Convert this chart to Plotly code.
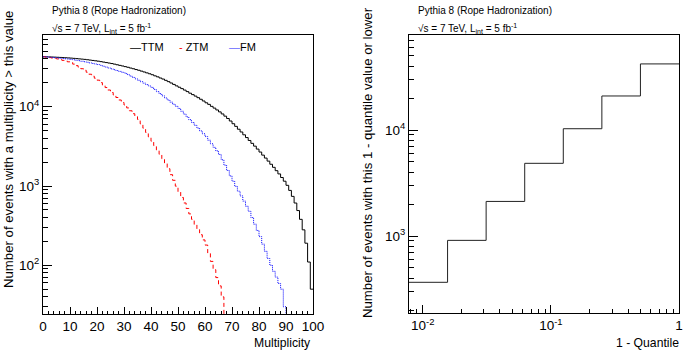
import numpy as np
import plotly.graph_objects as go

# ---------------- data ----------------
mult_edges = list(range(0, 101))  # multiplicity bin edges 0..100

ttm = [42600, 42500, 42400, 42300, 42150, 42000, 41800, 41600, 41400, 41200,
       41000, 40700, 40400, 40100, 39800, 39500, 39100, 38700, 38300, 37900,
       37500, 37000, 36500, 36000, 35500, 35000, 34400, 33800, 33200, 32600,
       32000, 31400, 30700, 30100, 29400, 28800, 28100, 27400, 26700, 26000,
       25300, 24500, 23800, 23000, 22300, 21500, 20700, 19900, 19100, 18300,
       17600, 16900, 16200, 15500, 14800, 14200, 13600, 13000, 12400, 11800,
       11200, 10700, 10100, 9600, 9100, 8600, 8100, 7600, 7100, 6600,
       6100, 5650, 5200, 4800, 4420, 4080, 3750, 3450, 3180, 2920,
       2680, 2450, 2250, 2060, 1880, 1720, 1560, 1420, 1280, 1150,
       1020, 880, 740, 610, 490, 380, 280, 190, 110, 50]

ztm = [42600, 42100, 41600, 41100, 40600, 40000, 39200, 38400, 37700, 36800,
       36000, 34430, 32930, 31490, 30120, 28800, 27190, 25670, 24230, 22880,
       21600, 20110, 18720, 17430, 16230, 15100, 14040, 13060, 12150, 11300,
       10500, 9650, 8880, 8160, 7510, 6900, 6080, 5360, 4730, 4170,
       3670, 3230, 2850, 2510, 2210, 1950, 1650, 1390, 1180, 995,
       840, 717, 611, 521, 445, 380, 327, 282, 243, 209,
       180, 142, 112, 88, 70, 55, 40, 0, 0, 0,
       0, 0, 0, 0, 0, 0, 0, 0, 0, 0,
       0, 0, 0, 0, 0, 0, 0, 0, 0, 0,
       0, 0, 0, 0, 0, 0, 0, 0, 0, 0]

fm = [42600, 42400, 42100, 41800, 41500, 41200, 40900, 40500, 40200, 39800,
      39500, 39000, 38500, 38000, 37400, 36900, 36300, 35700, 35100, 34500,
      34000, 33160, 32350, 31550, 30780, 30020, 29280, 28560, 27860, 27170,
      26500, 25420, 24390, 23400, 22450, 21540, 20660, 19820, 19020, 18240,
      17500, 16460, 15490, 14570, 13710, 12890, 12130, 11410, 10730, 10100,
      9500, 8760, 8070, 7440, 6850, 6320, 5820, 5370, 4950, 4560,
      4200, 3780, 3410, 3070, 2770, 2500, 2140, 1830, 1570, 1340,
      1150, 990, 860, 750, 645, 555, 480, 400, 330, 275,
      230, 185, 150, 122, 100, 84, 71, 59, 50, 30,
      0, 0, 0, 0, 0, 0, 0, 0, 0, 0]

quantile_edges = [1/128, 1/64, 1/32, 1/16, 1/8, 1/4, 1/2, 1]
quantile_counts = [366, 910, 2120, 4850, 10280, 20940, 42000]

series = [("TTM", ttm, "#000000", "solid"),
          ("ZTM", ztm, "#ff0000", "4px,3px"),
          ("FM", fm, "#0000ff", "1px,1px")]

FONT = "Liberation Sans, Arial, Helvetica, sans-serif"

fig = go.Figure()

for name, vals, col, dash in series:
    v = np.array(vals + [vals[-1]], dtype=float)
    v = np.where(v > 0, v, 1.0)  # empty bins drawn below the axis like ROOT
    fig.add_trace(go.Scatter(x=mult_edges, y=v, mode="lines", line_shape="hv",
                             line=dict(color=col, width=1, dash=dash),
                             name=name, showlegend=False, xaxis="x", yaxis="y"))

fig.add_trace(go.Scatter(x=quantile_edges, y=quantile_counts + [quantile_counts[-1]],
                         mode="lines", line_shape="hv",
                         line=dict(color="#222222", width=1),
                         showlegend=False, xaxis="x2", yaxis="y2"))

def log_minor(lo, hi):
    out = []
    for d in range(lo, hi + 1):
        for m in range(2, 10):
            out.append(m * 10 ** d)
    return out

axis_common = dict(showline=True, linecolor="#000000", linewidth=1, mirror=True,
                   showgrid=False, zeroline=False, ticks="inside", automargin=False,
                   tickcolor="#000000", tickfont=dict(family=FONT, size=13.5, color="#000"))

fig.update_layout(
    width=685, height=352,
    margin=dict(l=0, r=0, t=0, b=0, autoexpand=False),
    paper_bgcolor="white", plot_bgcolor="white",
    font=dict(family=FONT, color="#000"),
    xaxis=dict(domain=[43/685, 313/685], range=[0, 100], anchor="y",
               tickvals=list(range(0, 101, 10)), ticklen=7,
               minor=dict(dtick=2, ticklen=3.5, ticks="inside", tickcolor="#000", showgrid=False),
               **axis_common),
    yaxis=dict(domain=[1 - 314/352, 1 - 35/352], type="log", range=[1.386, 4.904], anchor="x",
               tickvals=[100, 1000, 10000],
               ticktext=["10<sup>2</sup>", "10<sup>3</sup>", "10<sup>4</sup>"], ticklen=9,
               minor=dict(tickvals=log_minor(1, 4), ticklen=5, ticks="inside", tickcolor="#000", showgrid=False),
               **axis_common),
    xaxis2=dict(domain=[409/685, 679/685], type="log", range=[np.log10(1/128), 0], anchor="y2",
                tickvals=[0.01, 0.1, 1],
                ticktext=["10<sup>-2</sup>", "10<sup>-1</sup>", "1"], ticklen=8,
                minor=dict(tickvals=log_minor(-3, -1), ticklen=4, ticks="inside", tickcolor="#000", showgrid=False),
                **axis_common),
    yaxis2=dict(domain=[1 - 313/352, 1 - 35/352], type="log", range=[2.274, 4.896], anchor="x2",
                tickvals=[1000, 10000],
                ticktext=["10<sup>3</sup>", "10<sup>4</sup>"], ticklen=9,
                minor=dict(tickvals=log_minor(2, 4), ticklen=5, ticks="inside", tickcolor="#000", showgrid=False),
                **axis_common),
)

ann = []
def txt(text, x, y, size, xanchor="left", yanchor="middle", angle=0, color="#000"):
    ann.append(dict(text=text, x=x / 685, y=1 - y / 352, xref="paper", yref="paper",
                    xanchor=xanchor, yanchor=yanchor, showarrow=False, textangle=angle,
                    font=dict(family=FONT, size=size, color=color)))

for x0 in (50, 416):
    txt("Pythia 8 (Rope Hadronization)", x0, 10, 10)
    txt("√s = 7 TeV, L<sub>int</sub> = 5 fb<sup>-1</sup>", x0, 28, 10)

txt("Multiplicity", 313, 343, 12.2, xanchor="right")
txt("1 - Quantile", 681, 343, 12.2, xanchor="right")
txt("Number of events with a multiplicity > this value", 8, 150, 13.2, xanchor="center", angle=-90)
txt("Number of events with this 1 - quantile value or lower", 367, 163, 13.2, xanchor="center", angle=-90)

# legend entries
txt("<span style='color:#000000'>—</span>TTM", 128, 47, 11)
txt("<span style='color:#ff0000'>-</span> ZTM", 177, 47, 11)
txt("<span style='color:#6666ff'>—</span>FM", 227, 47, 11)

fig.update_layout(annotations=ann)
fig.write_html("out.html", config={"displayModeBar": False},
               post_script="document.body.style.margin='0px';document.body.style.overflow='hidden';")
